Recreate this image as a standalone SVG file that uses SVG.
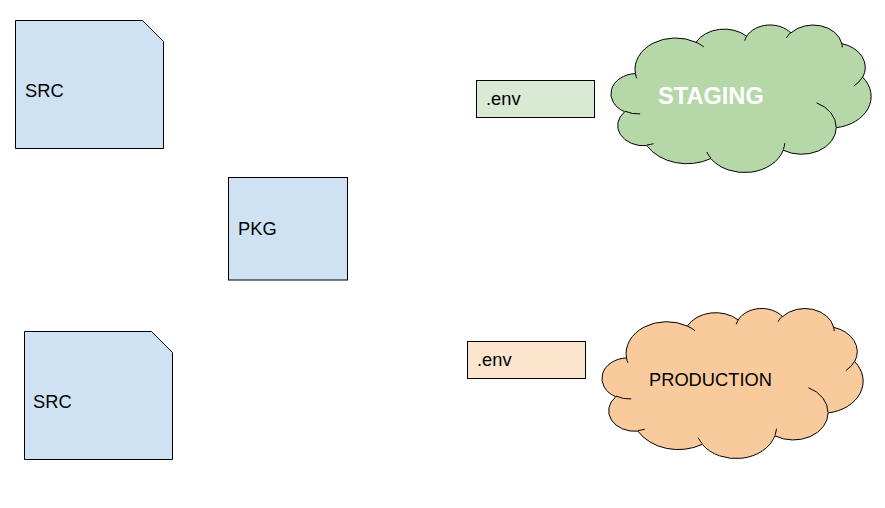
<svg xmlns="http://www.w3.org/2000/svg" xmlns:xlink="http://www.w3.org/1999/xlink" width="885" height="508" viewBox="0 0 885 508">
<style>
  .shape { stroke: #000; stroke-width: 1; }
  .blue { fill: #cfe2f3; }
  .lbl { font-family: "Liberation Sans", Arial, sans-serif; font-size: 18.3px; fill: #000; }
  .cl { stroke: #000; stroke-width: 1; vector-effect: non-scaling-stroke; }
</style>
<defs>
  <path id="cloudOutline" class="cl" d="M3900,14370 A6753,9190 0 0 1 14007,5204 A5333,7267 0 0 1 22458,3433 A4365,5945 0 0 1 29835,2480 A4857,6595 0 0 1 38320,5575 A5333,7273 0 0 1 41820,15459 A6775,9220 0 0 1 37408,30204 A5785,7867 0 0 1 28559,36815 A6752,9215 0 0 1 16484,39267 A7720,10543 0 0 1 5809,35474 A4360,5918 0 0 1 2118,25552 A4345,5945 0 0 1 3900,14370 Z"/>
  <path id="cloudInner" class="cl" fill="none" d="M4693,26177 A4345,5945 0 0 1 2160,25380 M6928,34899 A4360,5918 0 0 1 5820,35281 M16478,39090 A6752,9215 0 0 1 15810,37348 M28827,34751 A6752,9215 0 0 1 28560,36660 M34129,22954 A5785,7867 0 0 1 37381,30090 M41798,15354 A5333,7273 0 0 1 40350,18030 M38324,5426 A4857,6595 0 0 1 38400,6690 M29078,3952 A4857,6595 0 0 1 29820,2340 M22141,4720 A4365,5945 0 0 1 22500,3330 M14000,5192 A6753,9190 0 0 1 15299,6539 M4127,15789 A6753,9190 0 0 1 3900,14371"/>
</defs>
<rect width="885" height="508" fill="#fff"/>
<g id="connectors"/>
<g id="src1">
  <path class="shape blue" d="M15.5,20.5 H142.5 L163.5,41.5 V148.5 H15.5 Z"/>
  <text class="lbl" x="25" y="97">SRC</text>
</g>
<g id="pkg">
  <rect class="shape blue" x="228.5" y="177.5" width="119" height="102.5"/>
  <text class="lbl" x="238" y="235">PKG</text>
</g>
<g id="src2">
  <path class="shape blue" d="M24.5,331.5 H151.5 L172.5,352.5 V459.5 H24.5 Z"/>
  <text class="lbl" x="33" y="408">SRC</text>
</g>
<g id="env-staging">
  <rect class="shape" fill="#d9ead3" x="476.5" y="80.5" width="118" height="37"/>
  <text class="lbl" x="486" y="105">.env</text>
</g>
<g id="env-production">
  <rect class="shape" fill="#fce5cd" x="467.5" y="341.5" width="118" height="37"/>
  <text class="lbl" x="477" y="366">.env</text>
</g>
<g id="staging">
  <g transform="translate(612,24.5) scale(0.0059954,0.0034144)">
    <use xlink:href="#cloudOutline" href="#cloudOutline" fill="#b6d7a8"/>
    <use xlink:href="#cloudInner" href="#cloudInner"/>
  </g>
  <text x="658" y="104" font-family="Liberation Sans, Arial, sans-serif" font-size="23.6" font-weight="bold" fill="#fff">STAGING</text>
</g>
<g id="production">
  <g transform="translate(603,308) scale(0.0060185,0.0034722)">
    <use xlink:href="#cloudOutline" href="#cloudOutline" fill="#f9cb9c"/>
    <use xlink:href="#cloudInner" href="#cloudInner"/>
  </g>
  <text class="lbl" x="649" y="386">PRODUCTION</text>
</g>
</svg>
